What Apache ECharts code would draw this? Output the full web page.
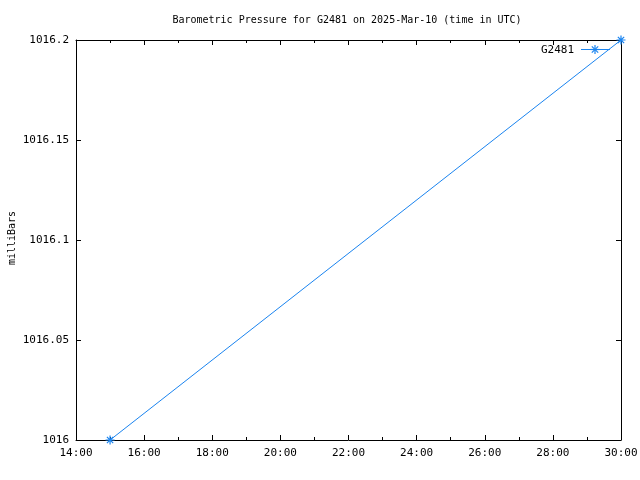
<!DOCTYPE html>
<html><head><meta charset="utf-8">
<script src="https://cdn.jsdelivr.net/npm/echarts@6/dist/echarts.min.js"></script>
<style>html,body{margin:0;padding:0;background:#fff}#c{width:640px;height:480px}</style>
</head><body><div id="c"></div>
<script>
const seriesName = 'G2481';
const timesHours = [15, 30];
const pressure = [1016.0, 1016.2];
const titleText = 'Barometric Pressure for G2481 on 2025-Mar-10 (time in UTC)';
const yAxisTitle = 'milliBars';

const FONT = '"DejaVu Sans Mono", monospace';
const COLOR = '#1a84f0';
const starPath = 'path://M0,-10L0,10M-10,0L10,0M-7,-7L7,7M-7,7L7,-7';

const fmtX = v => (v < 10 ? '0' : '') + v + ':00';
const fmtY = v => String(parseFloat(v.toFixed(3)));

const chart = echarts.init(document.getElementById('c'), null, {renderer: 'canvas'});
const axisLine = {show: true, lineStyle: {color: '#000', width: 1}};
const tick = {show: true, inside: true, length: 5, lineStyle: {color: '#000'}};
const minor = {show: true, splitNumber: 2, length: 3, lineStyle: {color: '#000'}};

// legend key (star) made of short strokes
const lx = 595, ly = 49.5, r = 4.5, d = 3.2;
const starSegs = [[0, -r, 0, r], [-r, 0, r, 0], [-d, -d, d, d], [-d, d, d, -d]].map(s => ({
  type: 'line', shape: {x1: lx + s[0], y1: ly + s[1], x2: lx + s[2], y2: ly + s[3]},
  style: {stroke: COLOR, lineWidth: 1.2}
}));

chart.setOption({
  animation: false,
  backgroundColor: '#fff',
  textStyle: {fontFamily: FONT},
  grid: {left: 76, right: 19, top: 40, bottom: 40, containLabel: false, outerBoundsMode: 'none'},
  graphic: [{
    type: 'text', x: 347, y: 20,
    style: {text: titleText, font: '10px ' + FONT, fill: '#000', align: 'center', verticalAlign: 'middle'}
  }, {
    type: 'text', x: 12, y: 238, rotation: Math.PI / 2,
    style: {text: yAxisTitle, font: '10px ' + FONT, fill: '#000', align: 'center', verticalAlign: 'middle'}
  }, {
    type: 'text', x: 574, y: 50,
    style: {text: seriesName, font: '11px ' + FONT, fill: '#000', align: 'right', verticalAlign: 'middle'}
  }, {
    type: 'line', shape: {x1: 581, y1: 49.5, x2: 610, y2: 49.5},
    style: {stroke: COLOR, lineWidth: 1}
  }].concat(starSegs),
  xAxis: [{
    type: 'value', min: 14, max: 30, interval: 2, position: 'bottom',
    axisLine: axisLine, axisTick: tick, minorTick: minor,
    axisLabel: {formatter: fmtX, fontFamily: FONT, fontSize: 11, color: '#000', margin: 8},
    splitLine: {show: false}, minorSplitLine: {show: false}
  }, {
    type: 'value', min: 14, max: 30, interval: 2, position: 'top',
    axisLine: axisLine, axisTick: tick, minorTick: minor,
    axisLabel: {show: false}, splitLine: {show: false}
  }],
  yAxis: [{
    type: 'value', min: 1016, max: 1016.2, interval: 0.05, position: 'left',
    axisLine: axisLine, axisTick: tick,
    axisLabel: {formatter: fmtY, fontFamily: FONT, fontSize: 11, color: '#000', margin: 7},
    splitLine: {show: false}
  }, {
    type: 'value', min: 1016, max: 1016.2, interval: 0.05, position: 'right',
    axisLine: axisLine, axisTick: tick,
    axisLabel: {show: false}, splitLine: {show: false}
  }],
  series: [{
    name: seriesName, type: 'line', xAxisIndex: 0, yAxisIndex: 0,
    data: timesHours.map((t, i) => [t, pressure[i]]),
    symbol: starPath, symbolSize: 9, showAllSymbol: true,
    lineStyle: {color: COLOR, width: 1},
    itemStyle: {color: 'none', borderColor: COLOR, borderWidth: 1.2},
    clip: false
  }]
});
</script></body></html>
